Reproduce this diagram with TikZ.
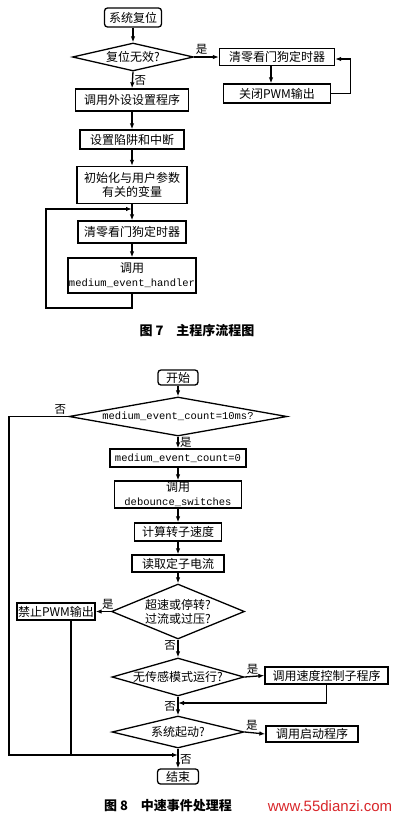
\documentclass[tikz,border=0pt]{standalone}
\usepackage{fontspec}
\setmainfont{Noto Sans CJK SC}
\setmonofont{Liberation Mono}
\setsansfont{Liberation Sans}
\usetikzlibrary{shapes.geometric,arrows.meta,positioning}
\definecolor{markred}{HTML}{D8262A}

\begin{document}
\begin{tikzpicture}[x=1pt,y=-1pt,
  procbox/.style={rectangle, draw, line width=1.3pt, inner sep=1pt, align=center, font=\fontsize{12}{14}\selectfont},
  termbox/.style={procbox, rounded corners=3pt},
  decbox/.style={diamond, draw, line width=1.3pt, inner sep=0pt, align=center, font=\fontsize{12}{14}\selectfont},
  codetxt/.style={font=\fontsize{10.5}{13}\ttfamily},
  arr/.style={-{Latex[length=6pt,width=4.5pt]}, line width=1.3pt},
  conn/.style={line width=1.3pt},
  yesno/.style={font=\fontsize{11.5}{12}\selectfont, inner sep=1.5pt},
  figcap/.style={font=\fontsize{13}{14}\selectfont\bfseries}
]
  \useasboundingbox (0,0) rectangle (400,817);

  % Fig. 7
  \node[termbox, minimum width=57pt, minimum height=19pt] (sysreset) at (133,17.5) {系统复位};
  \node[decbox, shape aspect=4.3, minimum width=121pt, minimum height=28pt] (resetok) at (133,57) {复位无效?};
  \node[procbox, minimum width=115pt, minimum height=17pt] (wdtA) at (277,57) {清零看门狗定时器};
  \node[procbox, minimum width=107pt, minimum height=19pt] (pwmoff) at (277,93.5) {关闭PWM输出};
  \node[procbox, minimum width=113pt, minimum height=22pt] (periph) at (132,100) {调用外设设置程序};
  \node[procbox, minimum width=104pt, minimum height=19pt] (trapint) at (132,139.5) {设置陷阱和中断};
  \node[procbox, minimum width=110pt, minimum height=37pt] (initvar) at (132,185) {初始化与用户参数\\有关的变量};
  \node[procbox, minimum width=108pt, minimum height=22pt] (wdtB) at (132,232) {清零看门狗定时器};
  \node[procbox, minimum width=127pt, minimum height=35pt] (handler) at (132,275.5) {调用\\{\fontsize{10.5}{13}\ttfamily medium\_event\_handler}};
  \node[figcap] (cap7) at (197,331) {图 7\quad 主程序流程图};
  \coordinate (loop7) at (132,209);
  \coordinate (back7) at (46,308);

  \draw[arr] (sysreset) -- (resetok);
  \draw[arr] (resetok.east) -- node[yesno, above, pos=0.3] {是} (wdtA.west);
  \draw[arr] ([xshift=-6pt]wdtA.south) -- ([xshift=-6pt]wdtA.south |- pwmoff.north);
  \draw[arr] (pwmoff.east) -- ++(19,0) |- ([yshift=-2pt]wdtA.east);
  \draw[arr] (resetok.south) -- node[yesno, right] {否} (periph.north);
  \draw[arr] (periph) -- (trapint);
  \draw[arr] (trapint) -- (initvar);
  \draw[arr] (initvar) -- (wdtB);
  \draw[arr] (wdtB) -- (handler);
  \draw[arr] (handler.south) |- (back7) |- (loop7);

  % Fig. 8
  \node[termbox, minimum width=40pt, minimum height=15pt] (start) at (178,377.5) {开始};
  \node[decbox, shape aspect=5.6, minimum width=218pt, minimum height=39pt, codetxt] (cntchk) at (178,416.5) {medium\_event\_count=10ms?};
  \node[procbox, minimum width=136pt, minimum height=18pt, codetxt] (cntzero) at (178,458) {medium\_event\_count=0};
  \node[procbox, minimum width=127pt, minimum height=27pt] (debounce) at (178,494.5) {调用\\{\fontsize{10.5}{13}\ttfamily debounce\_switches}};
  \node[procbox, minimum width=87pt, minimum height=18pt] (rotspd) at (178,532) {计算转子速度};
  \node[procbox, minimum width=92pt, minimum height=17pt] (readcur) at (178,563.5) {读取定子电流};
  \node[decbox, shape aspect=2.4, minimum width=133pt, minimum height=55pt] (faultchk) at (178,611.5) {超速或停转?\\过流或过压?};
  \node[procbox, minimum width=78pt, minimum height=17pt] (pwmban) at (56,611.5) {禁止PWM输出};
  \node[decbox, shape aspect=3.5, minimum width=132pt, minimum height=38pt] (senschk) at (178,677) {无传感模式运行?};
  \node[procbox, minimum width=123pt, minimum height=17pt] (speedctl) at (326.5,675.5) {调用速度控制子程序};
  \node[decbox, shape aspect=4.1, minimum width=132pt, minimum height=32pt] (startchk) at (178,732) {系统起动?};
  \node[procbox, minimum width=92pt, minimum height=16pt] (startprog) at (312,734) {调用启动程序};
  \node[termbox, minimum width=41pt, minimum height=15pt] (finish) at (178,776.5) {结束};
  \node[figcap] (cap8) at (168,806) {图 8\quad 中速事件处理程};
  \node[font=\fontsize{15}{16}\sffamily, text=markred] (mark) at (330,806) {www.55dianzi.com};
  \coordinate (bypass) at (9,755);
  \coordinate (join8) at (178,755);
  \coordinate (join8b) at (178,703);

  \draw[arr] (start) -- (cntchk);
  \draw[arr] (cntchk.west) node[yesno, above left] {否} -| (bypass) -- (join8);
  \draw[arr] (cntchk.south) -- node[yesno, right] {是} (cntzero.north);
  \draw[arr] (cntzero) -- (debounce);
  \draw[arr] (debounce) -- (rotspd);
  \draw[arr] (rotspd) -- (readcur);
  \draw[arr] (readcur) -- (faultchk);
  \draw[arr] (faultchk.west) -- node[yesno, above, pos=0.2] {是} (pwmban.east);
  \draw[conn] ([xshift=15pt]pwmban.south) -- ([xshift=15pt]pwmban.south |- join8);
  \draw[arr] (faultchk.south) -- node[yesno, left, pos=0.35] {否} (senschk.north);
  \draw[arr] (senschk.east) -- node[yesno, above, pos=0.4] {是} (speedctl.west);
  \draw[arr] (speedctl.south) |- (join8b);
  \draw[arr] (senschk.south) -- node[yesno, left, pos=0.5] {否} (startchk.north);
  \draw[arr] (startchk.east) -- node[yesno, above, pos=0.35] {是} (startprog.west);
  \draw[arr] (startchk.south) -- node[yesno, right, pos=0.55] {否} (finish.north);
\end{tikzpicture}
\end{document}
